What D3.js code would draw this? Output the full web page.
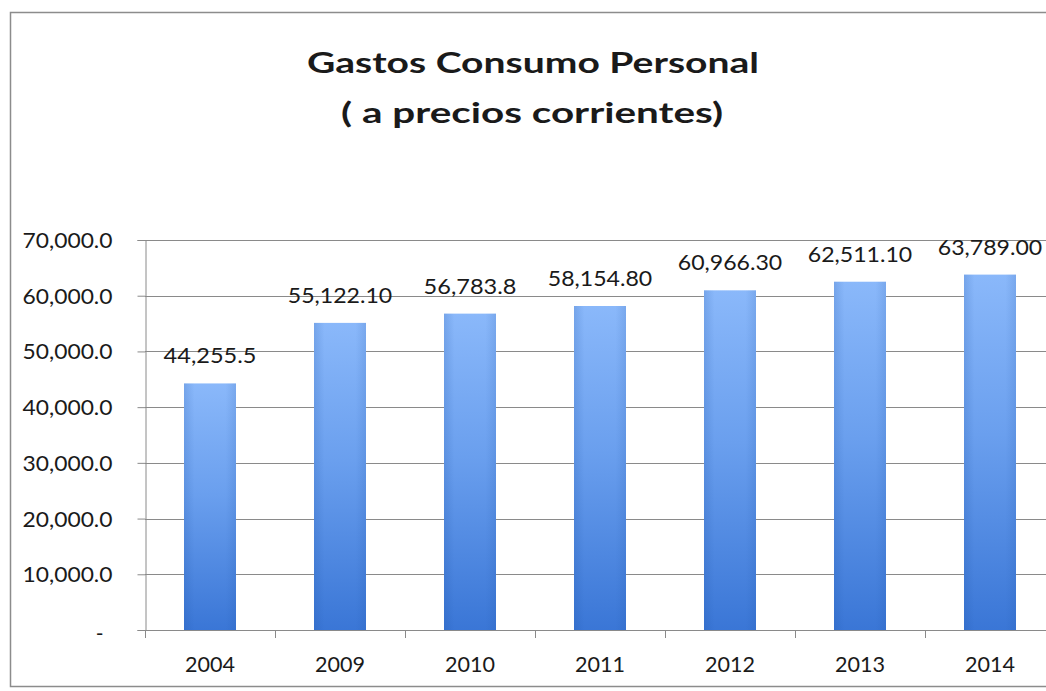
<!DOCTYPE html>
<html>
<head>
<meta charset="utf-8">
<script src="https://cdn.jsdelivr.net/npm/d3@7"></script>
<style>
  html, body { margin: 0; padding: 0; background: #fff; }
  svg { display: block; }
  text { font-family: Lato, "Open Sans", sans-serif; fill: #1a1a1a; }
</style>
</head>
<body>
<svg id="chart" width="1046" height="691"></svg>
<script>
// Personal consumption expenditure at current prices
const years = ["2004", "2009", "2010", "2011", "2012", "2013", "2014"];
const values = [44255.5, 55122.10, 56783.8, 58154.80, 60966.30, 62511.10, 63789.00];
const valueLabels = ["44,255.5", "55,122.10", "56,783.8", "58,154.80", "60,966.30", "62,511.10", "63,789.00"];
const yTicks = [0, 10000, 20000, 30000, 40000, 50000, 60000, 70000];
const titleLines = ["Gastos Consumo Personal", "( a precios corrientes)"];

const svg = d3.select("#chart");
const W = 1046, H = 691;

// frame around the chart
svg.append("rect")
  .attr("x", 10.5).attr("y", 12.5)
  .attr("width", 1100).attr("height", 674)
  .attr("fill", "#fff")
  .attr("stroke", "#8c8c8c").attr("stroke-width", 1.5);

// title
const title = svg.append("g");
title.append("text")
  .attr("x", 533).attr("y", 73)
  .attr("text-anchor", "middle")
  .attr("font-size", 29).attr("font-weight", 700)
  .attr("textLength", 452).attr("lengthAdjust", "spacingAndGlyphs")
  .text(titleLines[0]);
title.append("text")
  .attr("x", 532).attr("y", 123)
  .attr("text-anchor", "middle")
  .attr("font-size", 29).attr("font-weight", 700)
  .attr("textLength", 382).attr("lengthAdjust", "spacingAndGlyphs")
  .text(titleLines[1]);

// scales
const x = d3.scaleBand()
  .domain(years)
  .range([145, 1055])
  .paddingInner(0.6)
  .paddingOuter(0.3);

const y = d3.scaleLinear()
  .domain([0, 70000])
  .range([630, 240]);

// gradients for bars
const defs = svg.append("defs");
const gv = defs.append("linearGradient")
  .attr("id", "barV").attr("x1", 0).attr("y1", 0).attr("x2", 0).attr("y2", 1);
gv.append("stop").attr("offset", "0%").attr("stop-color", "#8ab8fa");
gv.append("stop").attr("offset", "45%").attr("stop-color", "#6a9fee");
gv.append("stop").attr("offset", "100%").attr("stop-color", "#3a76d6");

const gh = defs.append("linearGradient")
  .attr("id", "barH").attr("x1", 0).attr("y1", 0).attr("x2", 1).attr("y2", 0);
gh.append("stop").attr("offset", "0%").attr("stop-color", "#1a4fa0").attr("stop-opacity", 0.18);
gh.append("stop").attr("offset", "20%").attr("stop-color", "#1a4fa0").attr("stop-opacity", 0.0);
gh.append("stop").attr("offset", "80%").attr("stop-color", "#1a4fa0").attr("stop-opacity", 0.0);
gh.append("stop").attr("offset", "100%").attr("stop-color", "#1a4fa0").attr("stop-opacity", 0.15);

// gridlines
svg.append("g")
  .selectAll("line")
  .data(yTicks.slice(1))
  .join("line")
  .attr("x1", 145).attr("x2", 1055)
  .attr("y1", d => Math.round(y(d)) + 0.5)
  .attr("y2", d => Math.round(y(d)) + 0.5)
  .attr("stroke", "#8a8a8a").attr("stroke-width", 1);

// y axis
const fmtY = d => d === 0 ? "-" : d3.format(",.1f")(d);
const yAxis = svg.append("g")
  .attr("transform", "translate(145.5,0)")
  .call(d3.axisLeft(y).tickValues(yTicks).tickSize(8).tickPadding(0).tickFormat(fmtY));
yAxis.select(".domain").attr("stroke", "#8a8a8a");
yAxis.selectAll(".tick line").attr("stroke", "#8a8a8a");
yAxis.selectAll(".tick text")
  .attr("x", -33)
  .attr("dy", "0.36em")
  .attr("font-size", 21)
  .attr("font-family", "Lato, sans-serif")
  .attr("fill", "#1a1a1a")
  .attr("textLength", function(d) { return d === 0 ? null : 90; })
  .attr("lengthAdjust", "spacingAndGlyphs");
yAxis.selectAll(".tick").filter(d => d === 0).select("text")
  .attr("x", -42).attr("dy", "0.5em");

// bars
const bars = svg.append("g");
bars.selectAll("rect.bar")
  .data(values)
  .join("rect")
  .attr("class", "bar")
  .attr("x", (d, i) => x(years[i]))
  .attr("y", d => y(d))
  .attr("width", x.bandwidth())
  .attr("height", d => y(0) - y(d))
  .attr("fill", "url(#barV)");
bars.selectAll("rect.shade")
  .data(values)
  .join("rect")
  .attr("class", "shade")
  .attr("x", (d, i) => x(years[i]))
  .attr("y", d => y(d))
  .attr("width", x.bandwidth())
  .attr("height", d => y(0) - y(d))
  .attr("fill", "url(#barH)");

// x axis baseline and category ticks
const xg = svg.append("g");
xg.append("line")
  .attr("x1", 145).attr("x2", 1055)
  .attr("y1", 630.5).attr("y2", 630.5)
  .attr("stroke", "#8a8a8a");
xg.selectAll("line.tick")
  .data(d3.range(years.length + 1))
  .join("line")
  .attr("class", "tick")
  .attr("x1", i => 145.5 + i * x.step())
  .attr("x2", i => 145.5 + i * x.step())
  .attr("y1", 630).attr("y2", 638)
  .attr("stroke", "#8a8a8a");
xg.selectAll("text")
  .data(years)
  .join("text")
  .attr("x", d => x(d) + x.bandwidth() / 2)
  .attr("y", 672)
  .attr("text-anchor", "middle")
  .attr("font-size", 21)
  .attr("textLength", 50).attr("lengthAdjust", "spacingAndGlyphs")
  .text(d => d);

// value labels
svg.append("g")
  .selectAll("text")
  .data(values)
  .join("text")
  .attr("x", (d, i) => x(years[i]) + x.bandwidth() / 2)
  .attr("y", d => y(d) - 20)
  .attr("text-anchor", "middle")
  .attr("font-size", 21)
  .attr("textLength", (d, i) => valueLabels[i].length * 11.6)
  .attr("lengthAdjust", "spacingAndGlyphs")
  .text((d, i) => valueLabels[i]);
</script>
</body>
</html>
